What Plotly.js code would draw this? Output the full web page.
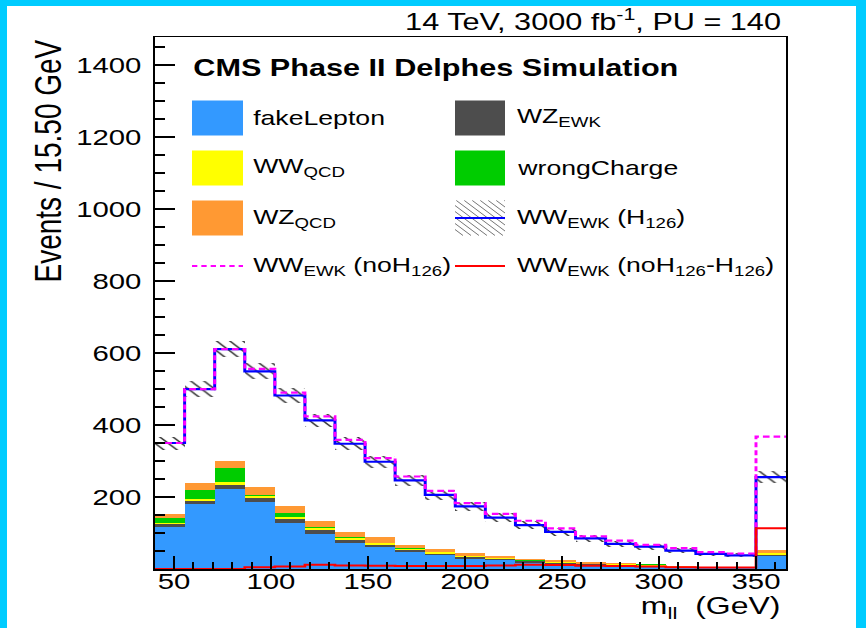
<!DOCTYPE html>
<html>
<head>
<meta charset="utf-8">
<script src="https://cdn.plot.ly/plotly-3.0.1.min.js"></script>
<style>
  html, body { margin:0; padding:0; background:#ffffff; width:866px; height:628px; overflow:hidden; }
  #wrap { position:absolute; left:0; top:0; width:650px; height:628px; transform:scaleX(1.332308); transform-origin:0 0; }
  .cyan { position:absolute; background:#00ccff; z-index:10; }
</style>
</head>
<body>
<div id="wrap"><div id="plot" style="width:650px;height:628px;"></div></div>
<div class="cyan" style="left:0;top:0;width:7px;height:628px;"></div>
<div class="cyan" style="left:0;top:0;width:866px;height:6px;"></div>
<div class="cyan" style="left:856px;top:0;width:10px;height:628px;"></div>
<script>
// ---------- data ----------
const binCenters = [47.75, 63.25, 78.75, 94.25, 109.75, 125.25, 140.75, 156.25, 171.75, 187.25, 202.75,
                    218.25, 233.75, 249.25, 264.75, 280.25, 295.75, 311.25, 326.75, 342.25, 357.75];
const binEdges = [40, 55.5, 71, 86.5, 102, 117.5, 133, 148.5, 164, 179.5, 195, 210.5,
                  226, 241.5, 257, 272.5, 288, 303.5, 319, 334.5, 350, 365.5];
const binWidth = 15.5;

const fakeLepton  = [117,181,223,187,128,97,72,61,47,38,29,24,18,15,11,9,7,4,3,3,35];
const wzEWK       = [7,9,11,10,11,10,9,6,5,5,4,4,3,2,2,2,2,1,1,1,5];
const wwQCD       = [5,5,8,7,5,6,6,5,4,4,3,2,2,2,2,2,1,1,1,0,4];
const wrongCharge = [12,25,39,1,12,5,1,1,1,1,1,1,1,0,0,0,3,0,0,0,0];
const wzQCD       = [13,19,20,22,20,16,16,16,10,8,7,6,5,5,4,4,2,2,1,1,10];

const wwEWK_H    = [350,500,611,549,482,413,348,298,246,206,174,143,122,103,85,70,62,51,42,38,255];
const wwEWK_noH  = [350,500,611,556,490,424,359,308,257,217,183,153,134,113,91,79,67,58,47,43,368];
const wwEWK_diff = [0,0,0,5,7,12,10,9,8,8,8,10,12,11,9,8,7,5,4,4,113];
const wwEWK_err  = [18,21,23,22,21,19,18,16,15,14,13,12,11,10,9,8,8,7,6,6,16];

const xTicks = [50,100,150,200,250,300,350];
const yTicks = [200,400,600,800,1000,1200,1400];

// ---------- geometry helpers (page px -> paper) ----------
const S = 866/650;
const ML = 116, MR = 60, MT = 37, MB = 59;
const PW = 650 - ML - MR, PH = 628 - MT - MB;
const px = X => (X/S - ML)/PW;
const py = Y => (628 - MB - Y)/PH;

const FONT = 'Liberation Sans, Arial, Helvetica, sans-serif';
const COL = {fake:'#3399ff', wzewk:'#4d4d4d', wwqcd:'#ffff00', wrong:'#00cc00', wzqcd:'#ff9933'};

function stackBar(name, vals, color){
  return {type:'bar', name:name, x:binCenters, y:vals, width:binCenters.map(()=>binWidth),
          marker:{color:color, line:{width:0}}, xaxis:'x', yaxis:'y', hoverinfo:'skip'};
}
function step(vals, color, dash, width){
  return {type:'scatter', mode:'lines', x:binEdges, y:vals.concat([vals[vals.length-1]]),
          line:{shape:'hv', color:color, dash:dash, width:width}, xaxis:'x', yaxis:'y2', hoverinfo:'skip'};
}

const traces = [
  stackBar('fakeLepton', fakeLepton, COL.fake),
  stackBar('WZ_EWK', wzEWK, COL.wzewk),
  stackBar('WW_QCD', wwQCD, COL.wwqcd),
  stackBar('wrongCharge', wrongCharge, COL.wrong),
  stackBar('WZ_QCD', wzQCD, COL.wzqcd),
  {type:'bar', name:'err', x:binCenters, width:binCenters.map(()=>binWidth),
   base:wwEWK_H.map((v,i)=>v-wwEWK_err[i]), y:wwEWK_err.map(e=>2*e),
   marker:{color:'rgba(0,0,0,0)', line:{width:0},
           pattern:{shape:'\\', fgcolor:'#333333', bgcolor:'rgba(0,0,0,0)', size:7, solidity:0.18}},
   xaxis:'x', yaxis:'y2', hoverinfo:'skip'},
  step(wwEWK_H, '#0000ff', 'solid', 2.2),
  step(wwEWK_noH, '#ff00ff', '5px,3px', 2.2),
  step(wwEWK_diff, '#ff0000', 'solid', 2)
];

// ---------- manual ROOT-style legend ----------
const shapes = [];
const annotations = [];
const rowY = [118, 168, 218, 266];
const col1 = [192, 243, 251], col2 = [455, 505, 514];
function box(c, r, color){
  shapes.push({type:'rect', xref:'paper', yref:'paper', x0:px(c[0]), x1:px(c[1]),
               y0:py(rowY[r]+17.5), y1:py(rowY[r]-17.5), fillcolor:color, line:{width:0}, layer:'above'});
}
function hline(c, r, color, dash){
  shapes.push({type:'line', xref:'paper', yref:'paper', x0:px(c[0]), x1:px(c[1]),
               y0:py(rowY[r]), y1:py(rowY[r]), line:{color:color, width:2.2, dash:dash}, layer:'above'});
}
function label(c, r, text){
  annotations.push({xref:'paper', yref:'paper', x:px(c[2]), y:py(rowY[r]), xanchor:'left', yanchor:'middle',
                    text:text, showarrow:false, font:{family:FONT, size:20, color:'#000'}});
}
box(col1,0,COL.fake);  label(col1,0,'fakeLepton');
box(col2,0,COL.wzewk); label(col2,0,'WZ<sub>EWK</sub>');
box(col1,1,COL.wwqcd); label(col1,1,'WW<sub>QCD</sub>');
box(col2,1,COL.wrong); label(col2,1,'wrongCharge');
box(col1,2,COL.wzqcd); label(col1,2,'WZ<sub>QCD</sub>');
// hatched box for WW_EWK (H126)
(function(){
  const X0 = col2[0]/S, X1 = col2[1]/S, Y0 = rowY[2]-17.5, Y1 = rowY[2]+17.5, H = Y1-Y0;
  let d = '';
  for (let t = X0 - H; t < X1; t += 6) {
    let xs = t, ys = Y0, xe = t + H, ye = Y1;
    if (xs < X0) { ys = Y0 + (X0 - xs); xs = X0; }
    if (xe > X1) { ye = Y1 - (xe - X1); xe = X1; }
    if (xe <= xs) continue;
    const cx = v => ((v - ML)/PW).toFixed(5);
    d += 'M' + cx(xs) + ',' + py(ys).toFixed(5) + 'L' + cx(xe) + ',' + py(ye).toFixed(5);
  }
  shapes.push({type:'path', xref:'paper', yref:'paper', path:d, line:{color:'#555', width:0.7}, layer:'above'});
})();
hline(col2,2,'#0000ff','solid'); label(col2,2,'WW<sub>EWK</sub> (H<sub>126</sub>)');
hline(col1,3,'#ff00ff','4px,3px');  label(col1,3,'WW<sub>EWK</sub> (noH<sub>126</sub>)');
hline(col2,3,'#ff0000','solid'); label(col2,3,'WW<sub>EWK</sub> (noH<sub>126</sub>-H<sub>126</sub>)');

annotations.push({xref:'paper', yref:'paper', x:px(190), y:py(68), xanchor:'left', yanchor:'middle',
  text:'<b>CMS Phase II Delphes Simulation</b>', showarrow:false, font:{family:FONT, size:23, color:'#000'}});
annotations.push({xref:'paper', yref:'paper', x:px(783), y:py(20), xanchor:'right', yanchor:'middle',
  text:'14 TeV, 3000 fb<sup>-1</sup>, PU = 140', showarrow:false, font:{family:FONT, size:23, color:'#000'}});
annotations.push({xref:'paper', yref:'paper', x:px(783), y:py(607), xanchor:'right', yanchor:'middle',
  text:'m<sub>ll</sub>  (GeV)', showarrow:false, font:{family:FONT, size:24, color:'#000'}});
annotations.push({xref:'paper', yref:'paper', x:px(48), y:py(38), xanchor:'center', yanchor:'top', textangle:-90,
  text:'Events / 15.50 GeV', showarrow:false, font:{family:FONT, size:28, color:'#000'}});

const axisCommon = {showgrid:false, zeroline:false, showline:true, linecolor:'#000', linewidth:1.5, mirror:true,
                    ticks:'inside', tickcolor:'#000', tickwidth:1.5, tickmode:'array',
                    tickfont:{family:FONT, size:22, color:'#000'}};

const layout = {
  width:650, height:628, autosize:false,
  margin:{l:ML, r:MR, t:MT, b:MB, pad:0},
  paper_bgcolor:'#ffffff', plot_bgcolor:'#ffffff',
  barmode:'stack', bargap:0, showlegend:false,
  xaxis:Object.assign({}, axisCommon, {range:[40,365.5], tickvals:xTicks, ticktext:xTicks.map(String), ticklen:13,
        ticklabelstandoff:-8,
        minor:{dtick:10, tick0:0, ticks:'inside', ticklen:7, tickwidth:1.5, tickcolor:'#000', showgrid:false}}),
  yaxis:Object.assign({}, axisCommon, {range:[0,1478], tickvals:yTicks, ticktext:yTicks.map(String), ticklen:15,
        ticklabelstandoff:4,
        minor:{dtick:50, tick0:0, ticks:'inside', ticklen:8, tickwidth:1.5, tickcolor:'#000', showgrid:false}}),
  yaxis2:{overlaying:'y', matches:'y', range:[0,1478], visible:false, showgrid:false, zeroline:false},
  shapes:shapes, annotations:annotations
};

Plotly.newPlot('plot', traces, layout, {staticPlot:true, displayModeBar:false});
</script>
</body>
</html>
